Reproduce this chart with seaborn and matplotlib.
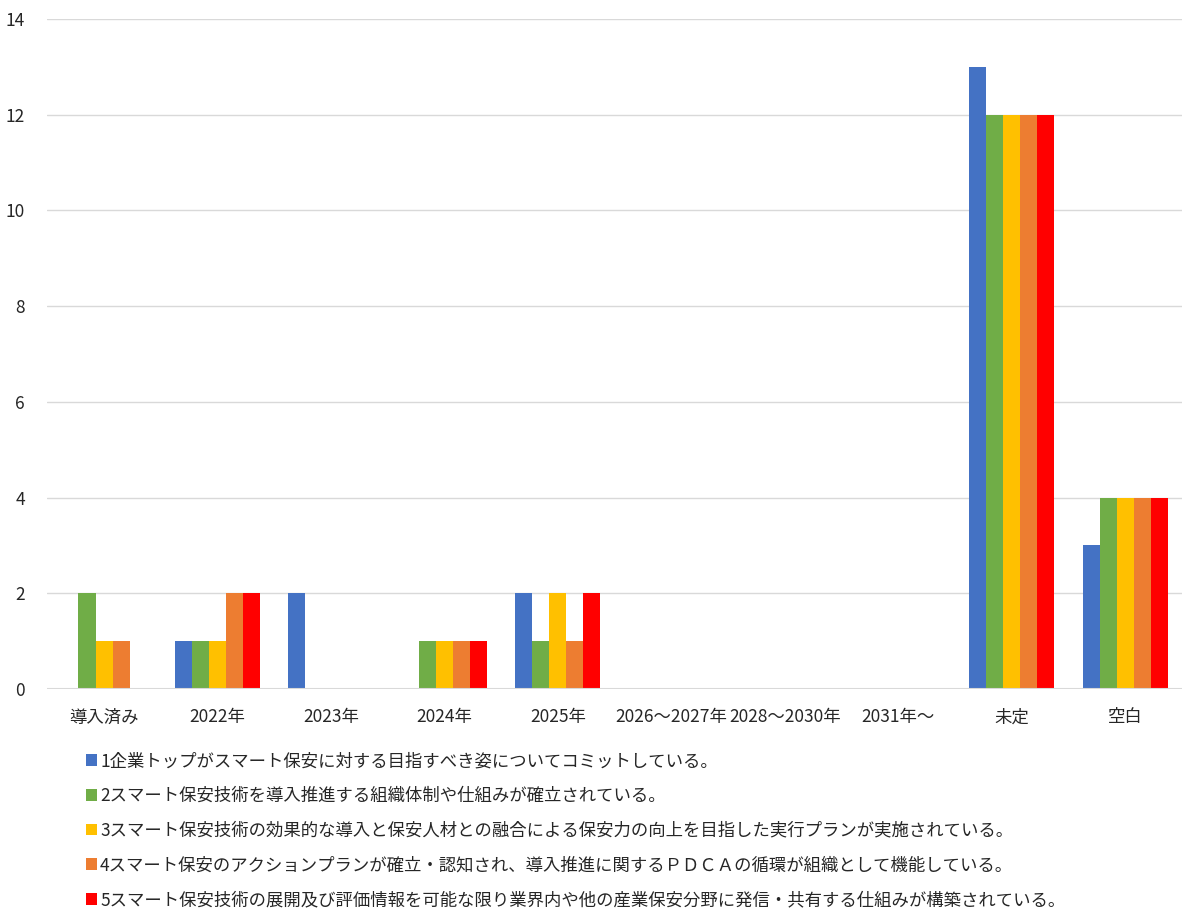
import matplotlib
matplotlib.use("Agg")
import matplotlib.pyplot as plt
import seaborn as sns
import pandas as pd

categories = ["導入済み", "2022年", "2023年", "2024年", "2025年",
              "2026〜2027年", "2028〜2030年", "2031年〜", "未定", "空白"]

series_names = [
    "1企業トップがスマート保安に対する目指すべき姿についてコミットしている。",
    "2スマート保安技術を導入推進する組織体制や仕組みが確立されている。",
    "3スマート保安技術の効果的な導入と保安人材との融合による保安力の向上を目指した実行プランが実施されている。",
    "4スマート保安のアクションプランが確立・認知され、導入推進に関するＰＤＣＡの循環が組織として機能している。",
    "5スマート保安技術の展開及び評価情報を可能な限り業界内や他の産業保安分野に発信・共有する仕組みが構築されている。",
]

s1 = [0, 1, 2, 0, 2, 0, 0, 0, 13, 3]
s2 = [2, 1, 0, 1, 1, 0, 0, 0, 12, 4]
s3 = [1, 1, 0, 1, 2, 0, 0, 0, 12, 4]
s4 = [1, 2, 0, 1, 1, 0, 0, 0, 12, 4]
s5 = [0, 2, 0, 1, 2, 0, 0, 0, 12, 4]

colors = ["#4472C4", "#70AD47", "#FFC000", "#ED7D31", "#FF0000"]

rows = []
for name, vals in zip(series_names, [s1, s2, s3, s4, s5]):
    for cat, v in zip(categories, vals):
        rows.append({"category": cat, "series": name, "value": v})
df = pd.DataFrame(rows)

sns.set_style("white")
plt.rcParams["font.family"] = ["Noto Sans CJK JP", "DejaVu Sans"]

fig = plt.figure(figsize=(11.82, 9.10), dpi=100)
ax = fig.add_axes([0.040, 0.243, 0.960, 0.736])

sns.barplot(
    data=df, x="category", y="value", hue="series",
    order=categories, hue_order=series_names,
    palette=colors, width=0.75, saturation=1,
    linewidth=0, ax=ax, legend=True,
)

ax.set_xlim(-0.5, len(categories) - 0.5)
ax.set_ylim(0, 14)
ax.set_yticks(range(0, 15, 2))
ax.yaxis.grid(True, color="#D9D9D9", linewidth=1)
ax.set_axisbelow(True)
for side in ["top", "right", "left", "bottom"]:
    ax.spines[side].set_visible(False)
ax.axhline(0, color="#D9D9D9", linewidth=1.5, zorder=3)
ax.tick_params(axis="both", length=0, labelsize=12.5, colors="#262626")
ax.tick_params(axis="x", pad=14)
ax.tick_params(axis="y", pad=16)
ax.set_xlabel("")
ax.set_ylabel("")

handles, labels = ax.get_legend_handles_labels()
ax.get_legend().remove()
fig.legend(
    handles, labels, loc="upper left", bbox_to_anchor=(0.067, 0.181),
    frameon=False, fontsize=12.5, labelcolor="#262626",
    handlelength=0.65, handleheight=0.65, handletextpad=0.15,
    labelspacing=0.96, borderaxespad=0,
)

fig.savefig("out.png", dpi=100)
